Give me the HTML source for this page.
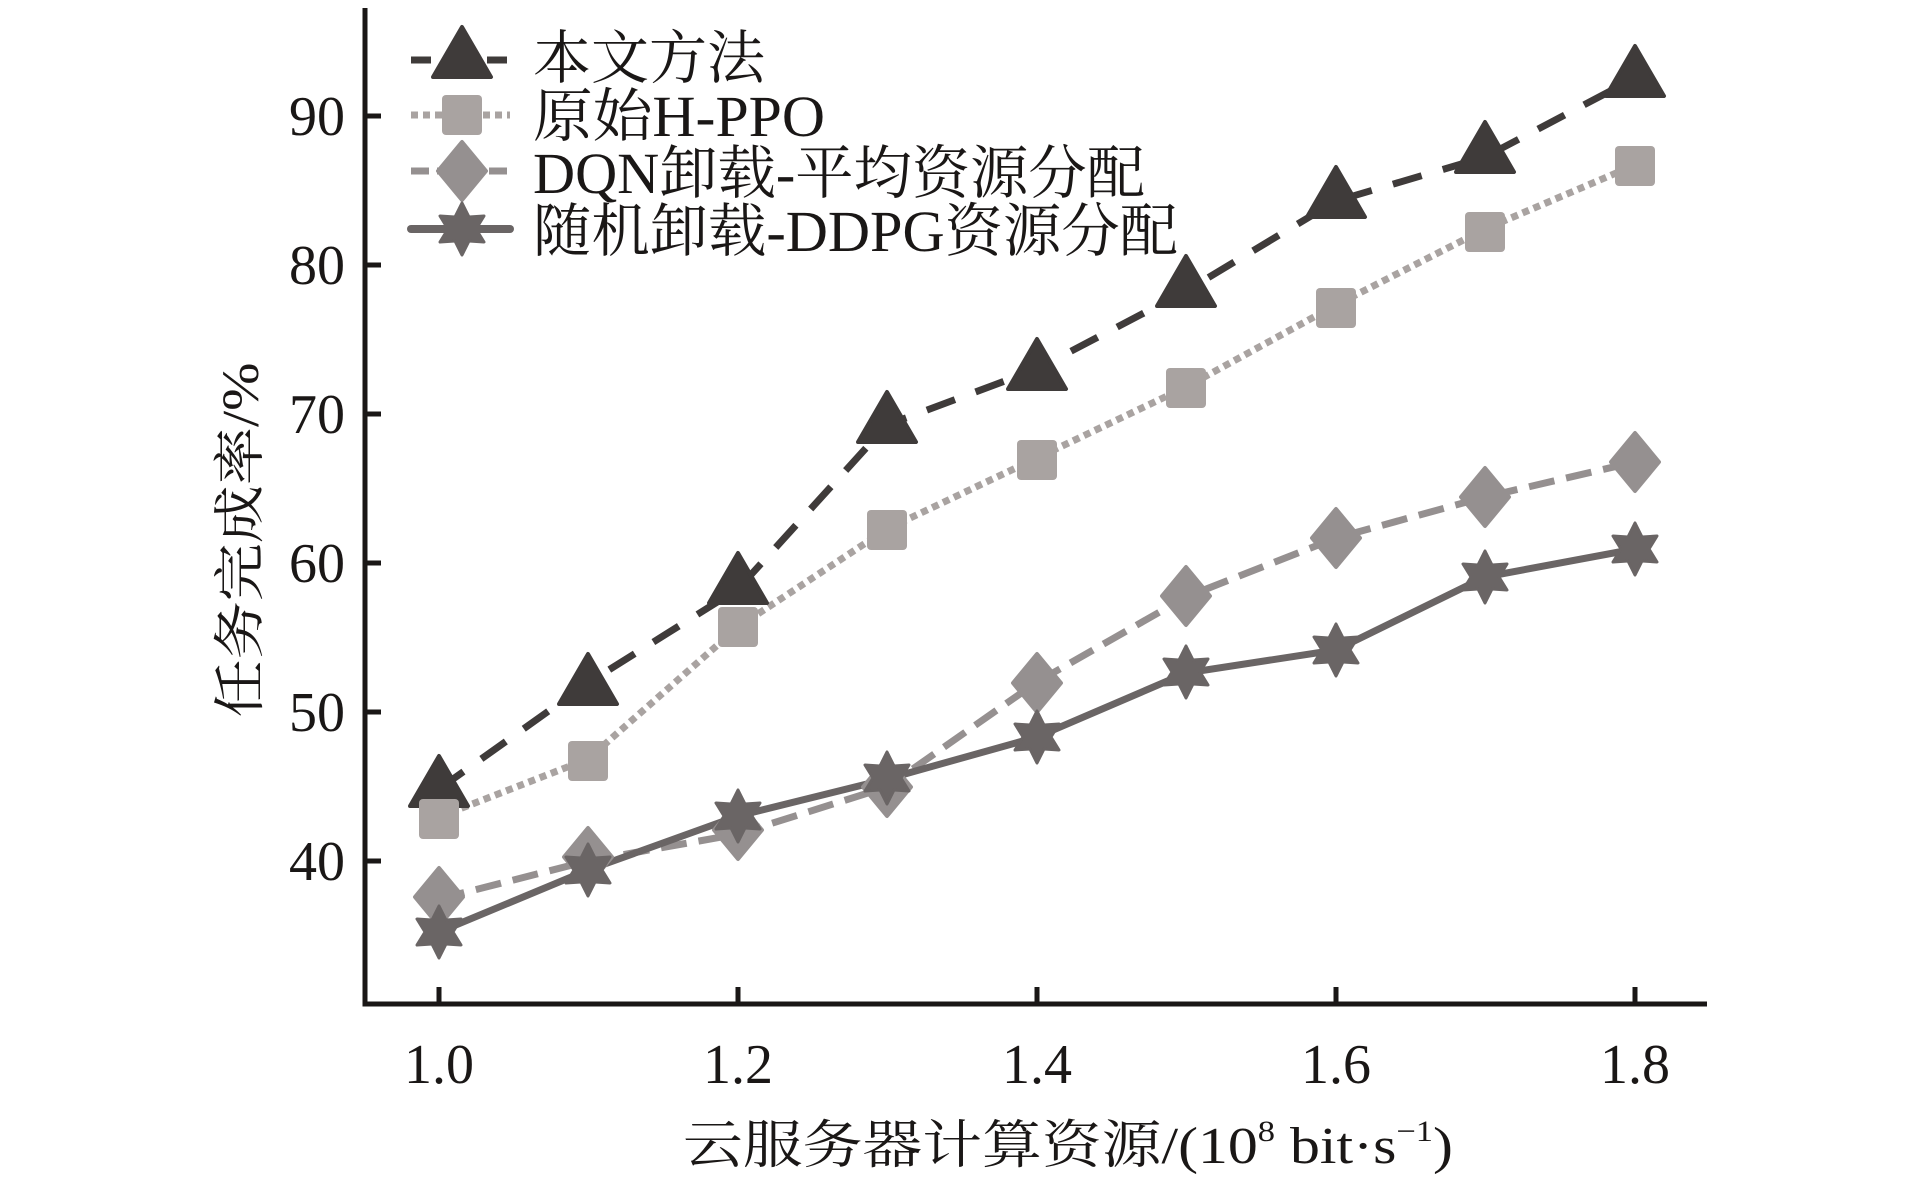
<!DOCTYPE html>
<html><head><meta charset="utf-8"><style>
html,body{margin:0;padding:0;background:#fff;}
svg{display:block;}
text{font-family:"Liberation Serif","Noto Serif CJK SC",serif;fill:#1a1716;}
</style></head><body>
<svg width="1913" height="1181" viewBox="0 0 1913 1181" xmlns="http://www.w3.org/2000/svg">
<defs>
<path id="tri" d="M0,-30 L29,20 L-29,20 Z" stroke-linejoin="round" stroke-width="4"/>
<rect id="sq" x="-20" y="-20" width="40" height="40" rx="4"/>
<path id="dia" d="M0,-29 L24,0 L0,29 L-24,0 Z" stroke-linejoin="round" stroke-width="4"/>
<path id="star" d="M0,-26 L7,-12 L22,-13 L14,0 L22,13 L7,12 L0,26 L-7,12 L-22,13 L-14,0 L-22,-13 L-7,-12 Z" stroke-linejoin="round" stroke-width="3"/>
</defs>
<path d="M365,8 L365,1004 L1707,1004" fill="none" stroke="#1a1716" stroke-width="5"/>
<g stroke="#1a1716" stroke-width="5">
<line x1="365" y1="116" x2="381" y2="116"/>
<line x1="365" y1="265" x2="381" y2="265"/>
<line x1="365" y1="414" x2="381" y2="414"/>
<line x1="365" y1="563" x2="381" y2="563"/>
<line x1="365" y1="712" x2="381" y2="712"/>
<line x1="365" y1="861" x2="381" y2="861"/>
<line x1="439" y1="1004" x2="439" y2="987"/>
<line x1="738" y1="1004" x2="738" y2="987"/>
<line x1="1037" y1="1004" x2="1037" y2="987"/>
<line x1="1336" y1="1004" x2="1336" y2="987"/>
<line x1="1635" y1="1004" x2="1635" y2="987"/>
</g>
<g font-size="56" text-anchor="end">
<text x="345" y="135">90</text>
<text x="345" y="284">80</text>
<text x="345" y="433">70</text>
<text x="345" y="582">60</text>
<text x="345" y="731">50</text>
<text x="345" y="880">40</text>
</g>
<g font-size="56" text-anchor="middle">
<text x="439" y="1083">1.0</text>
<text x="738" y="1083">1.2</text>
<text x="1037" y="1083">1.4</text>
<text x="1336" y="1083">1.6</text>
<text x="1635" y="1083">1.8</text>
</g>
<text x="683" y="1163" font-size="52" textLength="770" lengthAdjust="spacingAndGlyphs">云服务器计算资源/(10<tspan font-size="30" dy="-22">8</tspan><tspan dy="22"> bit·s</tspan><tspan font-size="30" dy="-22">−1</tspan><tspan dy="22">)</tspan></text>
<text transform="translate(258,540) rotate(-90)" font-size="52" text-anchor="middle" textLength="355" lengthAdjust="spacingAndGlyphs">任务完成率/%</text>

<polyline fill="none" stroke="#3f3b3a" stroke-width="7" stroke-dasharray="30,22" points="439,789 588,683 738,589 887,425 1037,369 1186,291 1336,201 1485,157 1635,78"/>
<polyline fill="none" stroke="#a9a3a1" stroke-width="7" stroke-dasharray="7,5" points="439,817 588,759 738,627 887,529 1037,458 1186,387 1336,305 1485,229 1635,165"/>
<polyline fill="none" stroke="#959090" stroke-width="7" stroke-dasharray="26,12" points="439,899 588,861 738,834 887,787 1037,682 1186,597 1336,538 1485,497 1635,462"/>
<polyline fill="none" stroke="#6a6565" stroke-width="7" points="439,932 588,870 738,816 887,779 1037,737 1186,673 1336,650 1485,577 1635,549"/>
<g fill="#3f3b3a" stroke="#3f3b3a">
<use href="#tri" x="439" y="786"/><use href="#tri" x="588" y="684"/><use href="#tri" x="738" y="583"/><use href="#tri" x="887" y="422"/><use href="#tri" x="1037" y="369"/><use href="#tri" x="1186" y="286"/><use href="#tri" x="1336" y="197"/><use href="#tri" x="1485" y="152"/><use href="#tri" x="1635" y="76"/>
</g>
<g fill="#a9a3a1">
<use href="#sq" x="439" y="819"/><use href="#sq" x="588" y="761"/><use href="#sq" x="738" y="627"/><use href="#sq" x="887" y="530"/><use href="#sq" x="1037" y="460"/><use href="#sq" x="1186" y="388"/><use href="#sq" x="1336" y="308"/><use href="#sq" x="1485" y="232"/><use href="#sq" x="1635" y="166"/>
</g>
<g fill="#959090" stroke="#959090">
<use href="#dia" x="439" y="897"/><use href="#dia" x="588" y="857"/><use href="#dia" x="738" y="830"/><use href="#dia" x="887" y="787"/><use href="#dia" x="1037" y="683"/><use href="#dia" x="1186" y="596"/><use href="#dia" x="1336" y="538"/><use href="#dia" x="1485" y="497"/><use href="#dia" x="1635" y="462"/>
</g>
<g fill="#6a6565" stroke="#6a6565">
<use href="#star" x="439" y="932"/><use href="#star" x="588" y="870"/><use href="#star" x="738" y="816"/><use href="#star" x="887" y="778"/><use href="#star" x="1037" y="737"/><use href="#star" x="1186" y="672"/><use href="#star" x="1336" y="650"/><use href="#star" x="1485" y="577"/><use href="#star" x="1635" y="549"/>
</g>

<line x1="411" y1="60" x2="510" y2="60" stroke="#3f3b3a" stroke-width="7" stroke-dasharray="20,18"/>
<use href="#tri" x="462" y="57" fill="#3f3b3a" stroke="#3f3b3a"/>
<line x1="411" y1="115" x2="510" y2="115" stroke="#a9a3a1" stroke-width="7" stroke-dasharray="7,5"/>
<use href="#sq" x="462" y="115" fill="#a9a3a1"/>
<line x1="411" y1="171" x2="510" y2="171" stroke="#959090" stroke-width="7" stroke-dasharray="18,8"/>
<use href="#dia" x="462" y="171" fill="#959090" stroke="#959090"/>
<line x1="411" y1="229" x2="510" y2="229" stroke="#6a6565" stroke-width="8" stroke-linecap="round"/>
<use href="#star" x="462" y="229" fill="#6a6565" stroke="#6a6565"/>
<g font-size="58">
<text x="533" y="78" textLength="232" lengthAdjust="spacingAndGlyphs">本文方法</text>
<text x="533" y="136" textLength="292" lengthAdjust="spacingAndGlyphs">原始H-PPO</text>
<text x="533" y="193" textLength="612" lengthAdjust="spacingAndGlyphs">DQN卸载-平均资源分配</text>
<text x="533" y="251" textLength="645" lengthAdjust="spacingAndGlyphs">随机卸载-DDPG资源分配</text>
</g>
</svg>
</body></html>
